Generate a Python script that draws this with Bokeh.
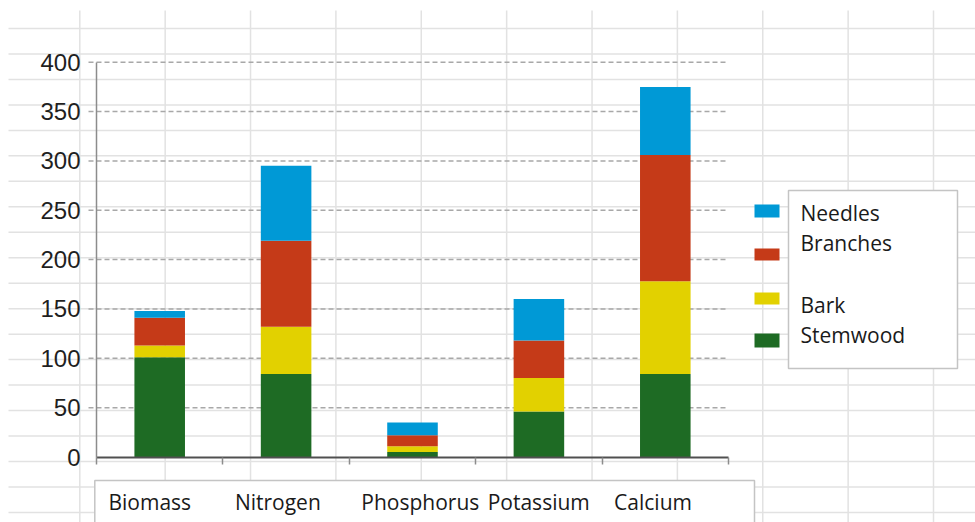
import numpy as np
from bokeh.plotting import figure
from bokeh.models import ColumnDataSource, Range1d, LinearAxis, FixedTicker
from bokeh.core.properties import value
from bokeh.embed import file_html
from bokeh.resources import INLINE

# ---------------- data ----------------
categories = ["Biomass", "Nitrogen", "Phosphorus", "Potassium", "Calcium"]
stemwood = [101, 84, 5, 46, 84]
bark = [12, 48, 6, 34, 94]
branches = [28, 87, 11, 38, 128]
needles = [7, 76, 13, 42, 69]
series_names = ["Stemwood", "Bark", "Branches", "Needles"]
series_colors = ["#1e6b24", "#e2d100", "#c53a18", "#0099d6"]
legend_order = ["Needles", "Branches", "Bark", "Stemwood"]
y_ticks = [0, 50, 100, 150, 200, 250, 300, 350, 400]

# ---------------- layout (picture pixel geometry) ----------------
W, H = 975, 522
OFF = 0
AX_X = 96               # x of the value axis
CAT_W = 126.4           # px per category
Y0 = 456.5              # y of value 0
PPU = 0.987             # px per value unit

x_range = Range1d(0.5 + (OFF - AX_X) / CAT_W, 0.5 + (OFF + W - AX_X) / CAT_W)
y_range = Range1d((Y0 - (OFF + H)) / PPU, (Y0 - OFF) / PPU)

p = figure(width=W, height=H, x_range=x_range, y_range=y_range,
           x_axis_location=None, y_axis_location=None,
           output_backend="svg", toolbar_location=None, min_border=0)
p.grid.visible = False
p.outline_line_color = None
p.background_fill_color = "white"
p.border_fill_color = "white"
p.extra_x_ranges = {"sx": Range1d(OFF, OFF + W)}
p.extra_y_ranges = {"sy": Range1d(OFF + H, OFF)}

# spreadsheet cell grid behind the chart
sheet_x = 79.3 + 85.37 * np.arange(0, 11)
sheet_y = 28 + 25.47 * np.arange(0, 20)
p.segment(x0=sheet_x, y0=10, x1=sheet_x, y1=OFF + H, x_range_name="sx", y_range_name="sy",
          line_color="#e2e2e2", line_width=1.5, level="image")
p.segment(x0=8, y0=sheet_y, x1=OFF + W, y1=sheet_y, x_range_name="sx", y_range_name="sy",
          line_color="#e2e2e2", line_width=1.5, level="image")

# text boxes (category label box and legend box)
p.quad(left=[94.3, 788], right=[754, 957], top=[480, 190], bottom=[540, 368],
       x_range_name="sx", y_range_name="sy", fill_color="white",
       line_color="#c4c4c4", line_width=1.5, level="underlay")

# dashed value gridlines
p.segment(x0=88, x1=728, y0=y_ticks[1:], y1=y_ticks[1:], x_range_name="sx",
          line_color="#a8a8a8", line_width=1.5, line_dash="5 3", level="underlay")

# stacked bars
xs = [i + 1 for i in range(len(categories))]
source = ColumnDataSource(dict(x=xs, Stemwood=stemwood, Bark=bark,
                               Branches=branches, Needles=needles))
p.vbar_stack(series_names, x="x", width=0.4, fill_color=series_colors,
             line_color=None, source=source)

# axes
yaxis = LinearAxis(fixed_location=0.5, bounds=(0, 400),
                   ticker=FixedTicker(ticks=y_ticks, minor_ticks=[]))
yaxis.axis_line_color = "#8c8c8c"
yaxis.axis_line_width = 1.5
yaxis.major_tick_out = 0
yaxis.major_tick_in = 0
yaxis.minor_tick_out = 0
yaxis.minor_tick_in = 0
yaxis.major_label_standoff = 16
yaxis.major_label_text_font = "Liberation Sans"
yaxis.major_label_text_font_size = "24px"
yaxis.major_label_text_color = "#1f1f1f"
p.add_layout(yaxis, "left")

xaxis = LinearAxis(fixed_location=0, bounds=(0.5, len(categories) + 0.5),
                   ticker=FixedTicker(ticks=[],
                                      minor_ticks=[i + 0.5 for i in range(len(categories) + 1)]))
xaxis.axis_line_color = "#505050"
xaxis.axis_line_width = 2
xaxis.major_tick_out = 0
xaxis.major_tick_in = 0
xaxis.minor_tick_out = 7
xaxis.minor_tick_in = 0
xaxis.minor_tick_line_color = "#8c8c8c"
xaxis.minor_tick_line_width = 1.5
xaxis.major_label_text_font_size = "0px"
p.add_layout(xaxis, "below")

# category labels inside the text box, left-aligned near each category's start
p.text(x=[x - 0.5 for x in xs], y=501.5, text=categories, y_range_name="sy",
       x_offset=12, text_font=value("Open Sans"), text_font_size="21px",
       text_color="#1a1a1a", text_baseline="middle", text_align="left")

# legend (swatches outside the box, labels inside)
color_of = dict(zip(series_names, series_colors))
sw_top = [204, 248, 292, 333]
sw_bot = [217, 260, 304, 347]
txt_y = [212.5, 242.5, 304, 334.7]
p.quad(left=754, right=779, top=sw_top, bottom=sw_bot,
       fill_color=[color_of[n] for n in legend_order], line_color=None,
       x_range_name="sx", y_range_name="sy")
p.text(x=800, y=txt_y, text=legend_order, x_range_name="sx", y_range_name="sy",
       text_font=value("Open Sans"), text_font_size="21px", text_color="#1a1a1a",
       text_baseline="middle", text_align="left")

open("out.html", "w").write(file_html(p, INLINE))
